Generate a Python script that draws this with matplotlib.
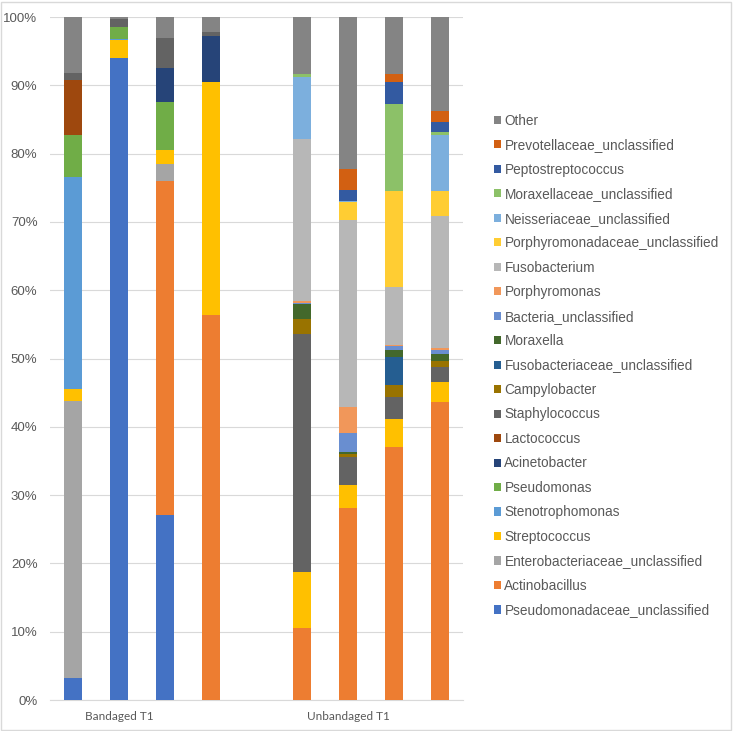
import matplotlib
matplotlib.use('Agg')
import matplotlib.pyplot as plt
from matplotlib.patches import Rectangle

# 8 samples: 4 bandaged + 4 unbandaged (values in %)
taxa = [
    "Pseudomonadaceae_unclassified", "Actinobacillus", "Enterobacteriaceae_unclassified",
    "Streptococcus", "Stenotrophomonas", "Pseudomonas", "Acinetobacter", "Lactococcus",
    "Staphylococcus", "Campylobacter", "Fusobacteriaceae_unclassified", "Moraxella",
    "Bacteria_unclassified", "Porphyromonas", "Fusobacterium",
    "Porphyromonadaceae_unclassified", "Neisseriaceae_unclassified",
    "Moraxellaceae_unclassified", "Peptostreptococcus", "Prevotellaceae_unclassified", "Other",
]
pseudomonadaceae = [3.2, 93.95, 27.1, 0, 0, 0, 0, 0]
actinobacillus = [0, 0, 48.9, 56.3, 10.5, 28.1, 37.0, 43.6]
enterobacteriaceae = [40.6, 0, 2.5, 0, 0, 0, 0, 0]
streptococcus = [1.8, 2.75, 2.0, 34.2, 8.2, 3.4, 4.2, 3.0]
stenotrophomonas = [31.0, 0.15, 0, 0, 0, 0, 0, 0]
pseudomonas = [6.2, 1.75, 7.05, 0, 0, 0, 0, 0]
acinetobacter = [0, 0, 5.05, 6.7, 0, 0, 0, 0]
lactococcus = [8.0, 0, 0, 0, 0, 0, 0, 0]
staphylococcus = [0.95, 1.1, 4.3, 0.65, 34.85, 4.1, 3.2, 2.2]
campylobacter = [0, 0, 0, 0, 2.3, 0.4, 1.7, 0.9]
fusobacteriaceae = [0, 0, 0, 0, 0, 0, 4.1, 0]
moraxella = [0, 0, 0, 0, 2.2, 0.35, 1.0, 1.0]
bacteria_uncl = [0, 0, 0, 0, 0.15, 2.7, 0.6, 0.6]
porphyromonas = [0, 0, 0, 0, 0.15, 3.9, 0.2, 0.3]
fusobacterium = [0, 0, 0, 0, 23.8, 27.3, 8.5, 19.3]
porphyromonadaceae = [0, 0, 0, 0, 0, 2.6, 14.0, 3.6]
neisseriaceae = [0, 0, 0, 0, 9.0, 0.2, 0, 8.2]
moraxellaceae = [0, 0, 0, 0, 0.45, 0, 12.8, 0.5]
peptostreptococcus = [0, 0, 0, 0, 0, 1.6, 3.2, 1.4]
prevotellaceae = [0, 0, 0, 0, 0, 3.15, 1.2, 1.6]
other = [8.25, 0.3, 3.1, 2.15, 8.4, 22.2, 8.3, 13.8]

series = [pseudomonadaceae, actinobacillus, enterobacteriaceae, streptococcus,
          stenotrophomonas, pseudomonas, acinetobacter, lactococcus, staphylococcus,
          campylobacter, fusobacteriaceae, moraxella, bacteria_uncl, porphyromonas,
          fusobacterium, porphyromonadaceae, neisseriaceae, moraxellaceae,
          peptostreptococcus, prevotellaceae, other]

colors = ["#4472C4", "#ED7D31", "#A5A5A5", "#FFC000", "#5B9BD5", "#70AD47", "#264478",
          "#9E480E", "#636363", "#997300", "#255E91", "#43682B", "#698ED0", "#F1975A",
          "#B7B7B7", "#FFCD33", "#7CAFDD", "#8CC168", "#335AA1", "#D26012", "#848484"]

group_labels = ["Bandaged T1", "Unbandaged T1"]

positions = [0, 1, 2, 3, 5, 6, 7, 8]

fig = plt.figure(figsize=(7.33, 7.31), dpi=100)
ax = fig.add_axes([0.0682, 0.0424, 0.5635, 0.9343])

bottom = [0.0] * len(positions)
handles = []
for vals, col, name in zip(series, colors, taxa):
    b = ax.bar(positions, [v / 100 for v in vals], width=0.39, bottom=bottom,
               color=col, label=name, zorder=3)
    handles.append(b)
    bottom = [bt + v / 100 for bt, v in zip(bottom, vals)]

ax.set_xlim(-0.5, 8.5)
ax.set_ylim(0, 1)
ax.set_yticks([i / 10 for i in range(11)])
ax.set_yticklabels([f"{i * 10}%" for i in range(11)], fontsize=9.5,
                   color="#595959", family="Liberation Sans")
ax.set_xticks([1, 6])
ax.set_xticklabels(group_labels, fontsize=8.5, color="#595959", family="Lato")
ax.tick_params(length=0, pad=8)
ax.tick_params(axis='y', pad=9)
ax.grid(axis='y', color="#D9D9D9", linewidth=0.8, zorder=0)
for s in ["top", "right", "left"]:
    ax.spines[s].set_visible(False)
ax.spines["bottom"].set_color("#D9D9D9")

leg = fig.legend(handles[::-1], taxa[::-1], loc="center left",
                 bbox_to_anchor=(0.664, 0.5), frameon=False,
                 prop={"family": "Liberation Sans", "size": 9.8},
                 handlelength=0.55, handleheight=0.55, handletextpad=0.25,
                 labelspacing=0.77, borderpad=0)
for t in leg.get_texts():
    t.set_color("#595959")

# chart border
fig.patches.append(Rectangle((0.002, 0.002), 0.995, 0.995, transform=fig.transFigure,
                             fill=False, edgecolor="#D9D9D9", linewidth=1))

fig.savefig("out.png", dpi=100, facecolor="white")
